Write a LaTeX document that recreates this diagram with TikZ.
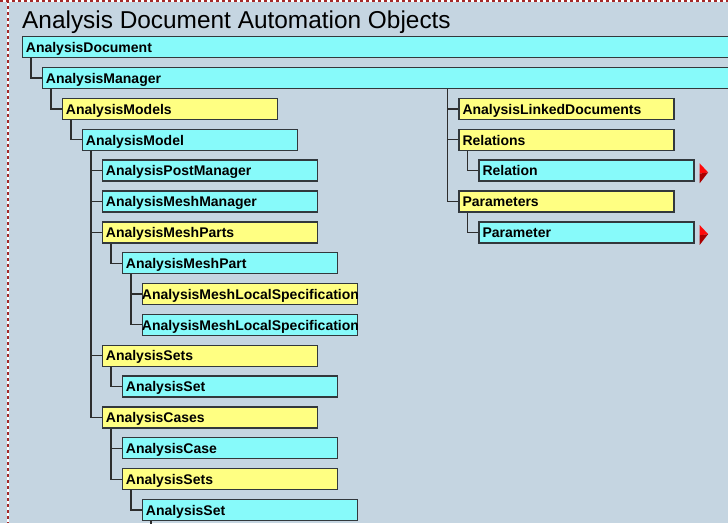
\documentclass[tikz,border=0pt]{standalone}
\usepackage{fontspec}
\setmainfont{Liberation Sans}
\definecolor{bgcol}{RGB}{197,213,225}
\definecolor{cyanfill}{RGB}{135,250,250}
\definecolor{yelfill}{RGB}{255,255,130}
\definecolor{boxline}{RGB}{50,56,60}
\definecolor{conline}{RGB}{45,45,45}
\definecolor{dashred}{RGB}{165,40,40}
\definecolor{trired}{RGB}{255,10,10}
\definecolor{tridark}{RGB}{170,0,0}
\tikzset{
  obj/.style={draw=boxline, line width=1.4pt, anchor=north west,
    minimum height=21pt, inner ysep=0pt, inner xsep=3.5pt,
    text width=208pt, align=left, text height=10.5pt, text depth=0pt,
    font=\bfseries\fontsize{14}{14}\selectfont},
  wide/.style={text width=720pt},
  cy/.style={obj, fill=cyanfill},
  ye/.style={obj, fill=yelfill},
  lbl/.style={inner sep=0pt, anchor=base west, font=\bfseries\fontsize{14}{14}\selectfont},
  con/.style={draw=conline, line width=1.2pt},
  frame/.style={line width=2pt},
}
\begin{document}
\begin{tikzpicture}[x=1pt,y=-1pt]
\useasboundingbox (0,0) rectangle (728,523);
\clip (0,0) rectangle (728,523);
\fill[bgcol] (0,0) rectangle (728,523);
% dashed frame
\draw[frame, white] (0,1) -- (728,1);
\draw[frame, dashred, dash pattern=on 3pt off 3pt] (0,1) -- (728,1);
\draw[frame, white] (7.5,0) -- (7.5,523);
\draw[frame, dashred, dash pattern=on 3pt off 3pt] (7.5,0) -- (7.5,523);
% title
\node[anchor=base west, inner sep=0pt, font=\fontsize{24.4}{24.4}\selectfont] (title) at (22,28.5) {Analysis Document Automation Objects};
% left tree
\node[cy, wide] (doc) at (21.7,36) {AnalysisDocument};
\node[cy, wide] (man) at (41.7,66.85) {AnalysisManager};
\node[ye] (models) at (61.7,97.7) {AnalysisModels};
\node[cy] (model) at (81.7,128.55) {AnalysisModel};
\node[cy] (pm) at (101.7,159.4) {AnalysisPostManager};
\node[cy] (mm) at (101.7,190.25) {AnalysisMeshManager};
\node[ye] (mps) at (101.7,221.1) {AnalysisMeshParts};
\node[cy] (mp) at (121.7,251.95) {AnalysisMeshPart};
\node[ye] (mlsa) at (141.7,282.8) {};
\begin{scope}
  \clip (mlsa.south west) rectangle (mlsa.north east);
  \node[lbl] (mlsat) at ([yshift=-5.25pt]mlsa.west) {AnalysisMeshLocalSpecification};
\end{scope}
\node[cy] (mlsb) at (141.7,313.65) {};
\begin{scope}
  \clip (mlsb.south west) rectangle (mlsb.north east);
  \node[lbl] (mlsbt) at ([yshift=-5.25pt]mlsb.west) {AnalysisMeshLocalSpecification};
\end{scope}
\node[ye] (setsa) at (101.7,344.5) {AnalysisSets};
\node[cy] (seta) at (121.7,375.35) {AnalysisSet};
\node[ye] (cases) at (101.7,406.2) {AnalysisCases};
\node[cy] (case) at (121.7,437.05) {AnalysisCase};
\node[ye] (setsb) at (121.7,467.9) {AnalysisSets};
\node[cy] (setb) at (141.7,498.75) {AnalysisSet};
\coordinate (setbend) at ([xshift=9.3pt]setb.south west |- 0,530);
% right tree
\node[ye] (ald) at (458.3,97.7) {AnalysisLinkedDocuments};
\node[ye] (rels) at (458.3,128.55) {Relations};
\node[cy] (rel) at (478.3,159.4) {Relation};
\node[ye] (pars) at (458.3,190.25) {Parameters};
\node[cy] (par) at (478.3,221.1) {Parameter};
% connectors
\draw[con] ([xshift=9.3pt]doc.south west) |- (man.west);
\draw[con] ([xshift=9.3pt]man.south west) |- (models.west);
\draw[con] ([xshift=9.3pt]models.south west) |- (model.west);
\foreach \c in {pm,mm,mps,setsa,cases}
  \draw[con] ([xshift=9.3pt]model.south west) |- (\c.west);
\draw[con] ([xshift=9.3pt]mps.south west) |- (mp.west);
\draw[con] ([xshift=9.3pt]mp.south west) |- (mlsa.west);
\draw[con] ([xshift=9.3pt]mp.south west) |- (mlsb.west);
\draw[con] ([xshift=9.3pt]setsa.south west) |- (seta.west);
\draw[con] ([xshift=9.3pt]cases.south west) |- (case.west);
\draw[con] ([xshift=9.3pt]cases.south west) |- (setsb.west);
\draw[con] ([xshift=9.3pt]setsb.south west) |- (setb.west);
\draw[con] ([xshift=9.3pt]setb.south west) -- (setbend);
\coordinate (rtrunk) at ([xshift=-10.6pt]ald.west |- man.south);
\foreach \c in {ald,rels,pars}
  \draw[con] (rtrunk) |- (\c.west);
\draw[con] ([xshift=9.3pt]rels.south west) |- (rel.west);
\draw[con] ([xshift=9.3pt]pars.south west) |- (par.west);
% more-indicators
\foreach \n in {rel,par}{
  \fill[trired] ([xshift=5pt,yshift=-4pt]\n.north east) -- ([xshift=13.4pt,yshift=-1.8pt]\n.east) -- ([xshift=5pt,yshift=-3pt]\n.east) -- cycle;
  \fill[tridark] ([xshift=5pt,yshift=-3pt]\n.east) -- ([xshift=13.4pt,yshift=-1.8pt]\n.east) -- ([xshift=5pt,yshift=-1.4pt]\n.south east) -- cycle;
}
\end{tikzpicture}
\end{document}
